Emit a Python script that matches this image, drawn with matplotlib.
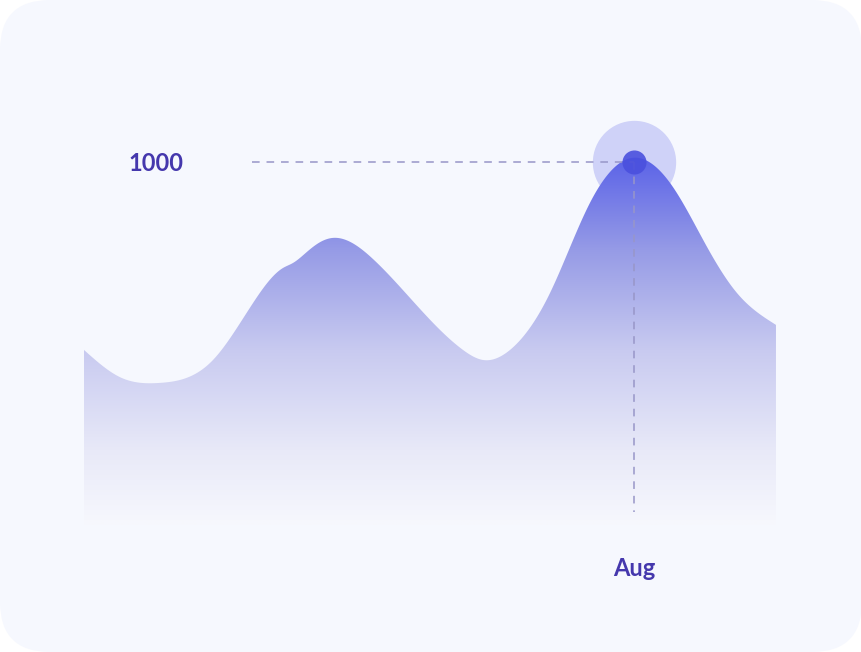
import numpy as np
import matplotlib
matplotlib.use("Agg")
import matplotlib.pyplot as plt
from matplotlib.patches import FancyBboxPatch

# ---- data (x in month units, Jan = 0) ----
x_pos = [0.0, 0.458, 0.967, 1.642, 2.151, 2.533, 2.660, 2.838, 3.004, 3.169, 3.678,
         4.531, 4.824, 5.078, 5.422, 5.931, 6.440, 7.0, 7.496, 7.929, 8.311, 8.807]
values = [475, 399, 383, 447, 606, 704, 718, 749, 776, 788, 729,
          531, 475, 447, 475, 634, 886, 1012, 930, 763, 634, 545]
highlight_label = "Aug"
highlight_x = 7.0
highlight_value = 1000
value_label = "1000"

# gradient colour stops (value -> rgb)
grad_vals = [-20, 0, 195, 475, 754, 1006, 1100]
grad_cols = [(247, 248, 253), (246, 247, 253), (232, 233, 248), (200, 202, 240),
             (150, 155, 230), (92, 100, 232), (88, 96, 232)]

W, H = 862, 652
fig = plt.figure(figsize=(W / 100, H / 100), dpi=100)
fig.patch.set_facecolor("white")

# card background
bg = fig.add_axes([0, 0, 1, 1])
bg.set_xlim(0, W); bg.set_ylim(H, 0); bg.axis("off")
bg.add_patch(FancyBboxPatch((0, 0), W, H, boxstyle="round,pad=0,rounding_size=50",
                            facecolor="#f6f8fe", edgecolor="none"))

px0, dx = 84, 78.57
py0, dy = 520, 0.358
ax = fig.add_axes([0, 0, 1, 1])
xlim = (-px0 / dx, (W - px0) / dx)
ylim = ((py0 - H) / dy, py0 / dy)
ax.axis("off")
ax.patch.set_alpha(0)


def natural_spline(x, y, xs):
    x = np.asarray(x, float); y = np.asarray(y, float)
    n = len(x); h = np.diff(x)
    A = np.zeros((n, n)); r = np.zeros(n)
    A[0, 0] = A[-1, -1] = 1
    for i in range(1, n - 1):
        A[i, i - 1] = h[i - 1]; A[i, i] = 2 * (h[i - 1] + h[i]); A[i, i + 1] = h[i]
        r[i] = 3 * ((y[i + 1] - y[i]) / h[i] - (y[i] - y[i - 1]) / h[i - 1])
    c = np.linalg.solve(A, r)
    b = (y[1:] - y[:-1]) / h - h * (2 * c[:-1] + c[1:]) / 3
    d = (c[1:] - c[:-1]) / (3 * h)
    idx = np.clip(np.searchsorted(x, xs) - 1, 0, n - 2)
    t = xs - x[idx]
    return y[idx] + b[idx] * t + c[idx] * t**2 + d[idx] * t**3


xs = np.linspace(x_pos[0], x_pos[-1], 1200)
ys = natural_spline(x_pos, values, xs)
base = -14

# halo behind the area
ax.scatter([highlight_x], [highlight_value], s=3600, color="#cfd2f8", zorder=1, linewidths=0)

poly = ax.fill_between(xs, ys, base, color="none", zorder=2)
vv = np.linspace(base, 1100, 600)
cols = np.array(grad_cols, float) / 255
img = np.stack([np.interp(vv, grad_vals, cols[:, c]) for c in range(3)], axis=-1)
img = np.repeat(img[:, None, :], 2, axis=1)
im = ax.imshow(img, extent=[x_pos[0], x_pos[-1], base, 1100], origin="lower",
               aspect="auto", zorder=2, interpolation="bilinear")
im.set_clip_path(poly.get_paths()[0], transform=ax.transData)
ax.set_xlim(*xlim)
ax.set_ylim(*ylim)

# dashed guides
lc = "#9896c8"
ax.plot([(252 - px0) / dx, highlight_x], [highlight_value, highlight_value], color=lc,
        lw=1.1, linestyle=(0, (5, 4.5)), zorder=3)
ax.plot([highlight_x, highlight_x], [highlight_value, (py0 - 512) / dy], color=lc,
        lw=1.1, linestyle=(0, (5, 4.5)), zorder=3)

# highlighted point
ax.scatter([highlight_x], [highlight_value], s=300, color="#4a50de", alpha=0.9,
           zorder=4, linewidths=0)

tc = "#4538ad"
ax.text((155.5 - px0) / dx, (py0 - 163.5) / dy, value_label, ha="center", va="center",
        fontsize=17, fontweight="bold", color=tc, family=["Lato", "DejaVu Sans"])
ax.text(highlight_x, (py0 - 569) / dy, highlight_label, ha="center", va="center",
        fontsize=17, fontweight="bold", color=tc, family=["Lato", "DejaVu Sans"])

fig.savefig("out.png", dpi=100, facecolor="white")
